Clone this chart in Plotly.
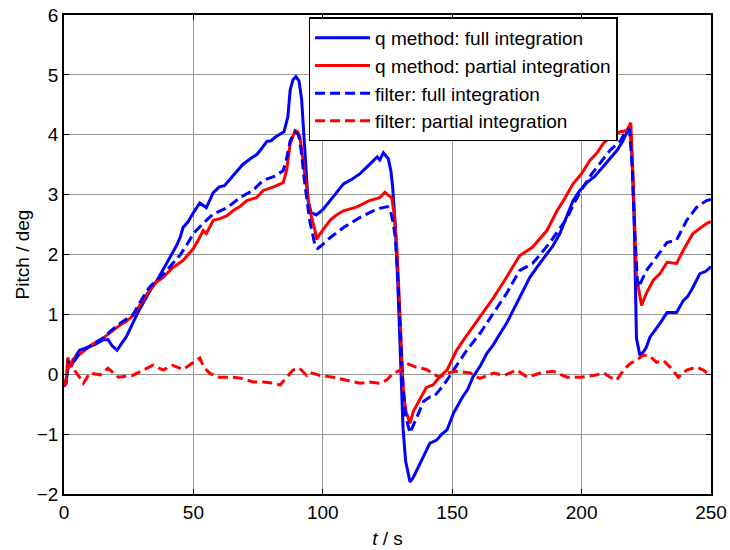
import plotly.graph_objects as go

# q method: full integration (blue solid)
t_qf = [0, 0.8, 1.8, 3, 4.5, 6, 8, 10, 12, 15, 17, 18.5, 20.5, 22, 24, 26, 29, 32, 34, 36,
        39, 41, 43.5, 45, 46, 48, 50, 52.5, 55, 57.6, 60, 62, 64, 66, 69, 72, 74.5, 76, 78.4, 80,
        82, 85, 86.5, 87.4, 88.5, 89.6, 90.8, 91.8, 93, 94.3, 95.5, 97.5, 100, 102.8, 105, 108, 111, 114.4, 118, 121,
        122, 123.4, 125.3, 126.3, 127, 128, 129, 130, 131, 132, 133.7, 135, 137.5, 139, 141.4, 144, 146, 148, 150.5, 154,
        156, 158, 161, 163.4, 166, 168.5, 171, 173.6, 177, 180, 183, 186.6, 189, 191.6, 194, 196.7, 199, 202, 205, 207,
        210, 213.7, 216, 217.5, 218.7, 219.5, 220.3, 221.2, 222.5, 224, 225, 226.4, 228.4, 230.3, 233, 236.7, 239.3, 241, 243, 245.7,
        248, 250]
y_qf = [-0.2, -0.15, 0.2, 0.15, 0.3, 0.4, 0.43, 0.46, 0.5, 0.57, 0.58, 0.48, 0.4, 0.5, 0.62, 0.8, 1.07, 1.3, 1.45, 1.57,
        1.8, 1.95, 2.15, 2.3, 2.45, 2.55, 2.7, 2.86, 2.78, 3.03, 3.13, 3.15, 3.25, 3.35, 3.5, 3.6, 3.67, 3.75, 3.89, 3.9,
        3.97, 4.05, 4.3, 4.75, 4.92, 4.97, 4.9, 4.6, 3.7, 2.9, 2.7, 2.66, 2.75, 2.9, 3.0, 3.18, 3.25, 3.35, 3.5, 3.63,
        3.58, 3.7, 3.6, 3.4, 3.12, 2.5, 1.5, 0.2, -0.9, -1.45, -1.8, -1.72, -1.49, -1.35, -1.15, -1.1, -1.0, -0.93, -0.65, -0.38,
        -0.25, -0.05, 0.15, 0.35, 0.5, 0.68, 0.85, 1.07, 1.35, 1.62, 1.8, 2.0, 2.15, 2.35, 2.6, 2.9, 3.05, 3.2, 3.3, 3.4,
        3.55, 3.74, 3.9, 4.05, 4.15, 3.6, 2.6, 0.6, 0.32, 0.38, 0.45, 0.62, 0.73, 0.85, 1.03, 1.03, 1.23, 1.3, 1.45, 1.68,
        1.72, 1.8]

# q method: partial integration (red solid)
t_qp = [0, 0.8, 1.5, 2.5, 3.5, 5, 8, 11, 15, 18, 21.6, 24, 26.7, 30, 33, 36, 38.3, 42, 46, 48,
        50, 52, 53.8, 55, 57.7, 60.3, 63, 65.3, 68, 70.6, 74.4, 77, 81, 84.7, 86, 87.4, 89.3, 90.3, 91.2, 93,
        95, 97, 97.6, 99, 102.8, 105, 108, 113, 118, 122, 124, 125, 126.6, 127.5, 128.5, 129.3, 130, 131, 132, 133.7,
        135, 137.5, 140, 142.6, 145, 148, 151.7, 154, 157, 162, 166, 171, 176, 181, 186.6, 190.5, 193, 196.7, 200, 203.2,
        206, 208.3, 212, 215, 217.5, 219, 219.8, 221.2, 223.2, 225, 227.7, 230.3, 233, 236.7, 239.3, 243, 244.6, 248.4, 250]
y_qp = [-0.2, -0.15, 0.28, 0.12, 0.25, 0.3, 0.4, 0.5, 0.6, 0.7, 0.82, 0.88, 0.98, 1.2, 1.4, 1.55, 1.62, 1.78, 1.9, 2.0,
        2.1, 2.25, 2.4, 2.35, 2.57, 2.6, 2.65, 2.73, 2.8, 2.9, 2.95, 3.07, 3.13, 3.2, 3.4, 3.85, 4.07, 4.05, 3.95, 3.35,
        2.73, 2.4, 2.25, 2.35, 2.57, 2.65, 2.73, 2.79, 2.9, 2.95, 3.04, 3.0, 2.95, 2.7, 2.2, 1.5, 0.7, -0.2, -0.6, -0.82,
        -0.62, -0.42, -0.22, -0.18, -0.05, 0.07, 0.4, 0.55, 0.73, 1.02, 1.28, 1.62, 1.98, 2.12, 2.4, 2.73, 2.9, 3.18, 3.35, 3.57,
        3.7, 3.85, 4.0, 4.05, 4.07, 4.2, 3.4, 1.62, 1.15, 1.35, 1.57, 1.68, 1.87, 1.85, 2.07, 2.35, 2.4, 2.52, 2.55]

# filter: full integration (blue dashed)
t_ff = [0, 0.8, 1.8, 3, 4.5, 6, 8, 11, 15, 18, 21.6, 24, 26.7, 30, 33, 36, 39, 42, 45, 48,
        50, 53.8, 57.7, 60, 63, 68, 73, 77, 81, 84.7, 86, 87.4, 89.3, 90.5, 91.2, 93, 95, 97, 98, 99.5,
        102.8, 108, 114.4, 119.5, 122, 125, 126, 127, 128, 129, 130, 131, 132, 133.7, 135, 137.5, 139, 141.4, 143, 145,
        148, 150.5, 155.6, 160.7, 166, 171, 176, 181, 184, 187.8, 191, 194.3, 197, 200.5, 204, 207, 211, 215, 217, 218.5,
        219.5, 220.5, 221.5, 222, 225, 229, 233, 236.7, 240.6, 244.5, 248.3, 250]
y_ff = [-0.2, -0.1, 0.2, 0.18, 0.25, 0.35, 0.42, 0.5, 0.6, 0.72, 0.85, 0.92, 1.0, 1.25, 1.45, 1.58, 1.7, 1.85, 2.0, 2.2,
        2.35, 2.52, 2.68, 2.72, 2.78, 2.95, 3.07, 3.24, 3.3, 3.4, 3.6, 3.9, 4.05, 4.0, 3.9, 3.2, 2.55, 2.15, 2.1, 2.15,
        2.28, 2.45, 2.62, 2.73, 2.77, 2.8, 2.75, 2.57, 2.3, 1.6, 0.6, -0.2, -0.7, -0.98, -0.85, -0.6, -0.45, -0.38, -0.37, -0.27,
        -0.1, 0.07, 0.4, 0.68, 1.02, 1.35, 1.73, 1.85, 2.0, 2.2, 2.4, 2.6, 2.85, 3.12, 3.35, 3.52, 3.74, 3.9, 4.05, 4.1,
        3.5, 2.4, 1.6, 1.45, 1.73, 1.96, 2.2, 2.24, 2.57, 2.79, 2.9, 2.92]

# filter: partial integration (red dashed)
t_fp = [0, 0.8, 1.5, 3.5, 6, 7.5, 10, 14, 17, 21, 26.5, 30.5, 34.4, 38.3, 42, 46, 49.3, 52.5, 54, 56.5,
        60, 65, 69, 73, 77, 81, 83.5, 86, 88.5, 91, 93.8, 95, 99, 104, 109, 114.4, 118, 122, 124.6, 127,
        130, 132.4, 136, 140, 142.6, 145, 148, 151.7, 157, 160.7, 166, 170, 175, 179, 184, 189, 194.4, 199.5, 204.7, 208.6,
        211, 213.5, 216.2, 218.8, 221.2, 223.8, 226.4, 229, 231.6, 234.2, 237.4, 240.6, 244.5, 247, 250]
y_fp = [-0.2, -0.1, 0.15, 0.1, -0.05, -0.15, 0.02, -0.01, 0.1, -0.05, -0.02, 0.07, 0.15, 0.07, 0.15, 0.08, 0.18, 0.27, 0.12, 0.01,
        -0.05, -0.05, -0.07, -0.13, -0.13, -0.15, -0.18, -0.05, 0.07, 0.1, -0.02, 0.03, -0.02, -0.05, -0.1, -0.15, -0.13, -0.15, -0.1, 0.01,
        0.07, 0.18, 0.12, 0.08, 0.01, -0.05, 0.02, 0.05, 0.02, -0.07, 0.02, -0.02, 0.07, -0.05, 0.02, 0.05, -0.05, -0.05, -0.02, 0.02,
        -0.05, -0.1, 0.07, 0.18, 0.23, 0.32, 0.3, 0.2, 0.23, 0.12, -0.05, 0.07, 0.12, 0.07, -0.02]

names = ["q method: full integration", "q method: partial integration",
         "filter: full integration", "filter: partial integration"]

for a, b in [(t_qf, y_qf), (t_qp, y_qp), (t_ff, y_ff), (t_fp, y_fp)]:
    assert len(a) == len(b), (len(a), len(b))

BLUE = "#0000FF"
RED = "#FF0000"
DASH = "10px,5px"

fig = go.Figure()
fig.add_trace(go.Scatter(x=t_qf, y=y_qf, mode="lines", name=names[0],
                         line=dict(color=BLUE, width=3)))
fig.add_trace(go.Scatter(x=t_qp, y=y_qp, mode="lines", name=names[1],
                         line=dict(color=RED, width=3)))
fig.add_trace(go.Scatter(x=t_ff, y=y_ff, mode="lines", name=names[2],
                         line=dict(color=BLUE, width=3, dash=DASH)))
fig.add_trace(go.Scatter(x=t_fp, y=y_fp, mode="lines", name=names[3],
                         line=dict(color=RED, width=3, dash=DASH)))

FONT = "Liberation Sans, Arial, sans-serif"
FS = 19
axis_common = dict(showline=True, linecolor="black", linewidth=1.5, mirror="ticks",
                   ticks="inside", ticklen=5, tickcolor="black", automargin=False,
                   showgrid=True, gridcolor="#999999", gridwidth=1,
                   zeroline=False, tickfont=dict(family=FONT, size=FS, color="black"))

fig.update_layout(
    width=730, height=550,
    margin=dict(l=64, r=19, t=15, b=56),
    paper_bgcolor="white", plot_bgcolor="white",
    font=dict(family=FONT, size=FS, color="black"),
    showlegend=True,
    legend=dict(x=0.378, y=0.995, xanchor="left", yanchor="top",
                bgcolor="white", bordercolor="black", borderwidth=1.5,
                font=dict(family=FONT, size=19, color="black"),
                itemwidth=55, tracegroupgap=0),
    xaxis=dict(range=[0, 250], dtick=50, tick0=0,
               title=dict(text="<i>t</i> / s", standoff=10, font=dict(family=FONT, size=FS)),
               **axis_common),
    yaxis=dict(range=[-2, 6], dtick=1, tick0=0,
               title=dict(text="Pitch / deg", standoff=2, font=dict(family=FONT, size=FS)),
               **axis_common),
)

fig.write_html("out.html", config={"displayModeBar": False},
               post_script="document.body.style.margin='0';document.body.style.padding='0';")
